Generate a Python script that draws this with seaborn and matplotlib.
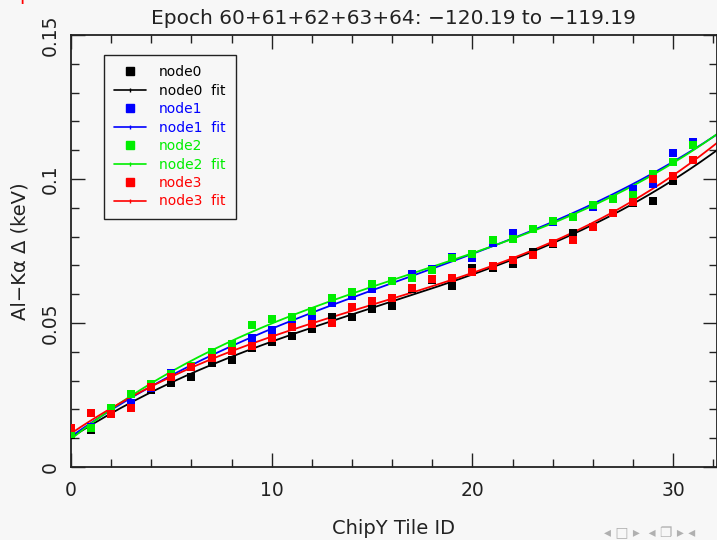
import numpy as np
import pandas as pd
import matplotlib
matplotlib.use("Agg")
import matplotlib.pyplot as plt
import seaborn as sns
from matplotlib.lines import Line2D
from matplotlib.ticker import MultipleLocator

# values (ChipY tile 0..31)
tile_id = list(range(32))
node0 = [0.0111, 0.0128, 0.0201, 0.0222, 0.0267, 0.0292, 0.0313, 0.0361, 0.0372, 0.0413,
         0.0434, 0.0455, 0.0479, 0.0521, 0.0521, 0.0549, 0.0559, 0.0618, 0.0649, 0.0628,
         0.0691, 0.0691, 0.0705, 0.0747, 0.0774, 0.0813, 0.0833, 0.0882, 0.0917, 0.0924,
         0.0993, 0.1066]
node1 = [0.0135, 0.0140, 0.0198, 0.0222, 0.0274, 0.0326, 0.0347, 0.0389, 0.0413, 0.0448,
         0.0476, 0.0514, 0.0524, 0.0569, 0.0594, 0.0618, 0.0646, 0.0670, 0.0688, 0.0729,
         0.0726, 0.0778, 0.0813, 0.0826, 0.0851, 0.0868, 0.0903, 0.0931, 0.0965, 0.0983,
         0.1090, 0.1128]
node2 = [0.0115, 0.0135, 0.0205, 0.0253, 0.0288, 0.0323, 0.0351, 0.0399, 0.0427, 0.0493,
         0.0514, 0.0521, 0.0542, 0.0587, 0.0608, 0.0635, 0.0646, 0.0656, 0.0684, 0.0726,
         0.0740, 0.0788, 0.0792, 0.0826, 0.0854, 0.0868, 0.0910, 0.0931, 0.0944, 0.1017,
         0.1059, 0.1118]
node3 = [0.0135, 0.0188, 0.0184, 0.0205, 0.0278, 0.0313, 0.0347, 0.0378, 0.0403, 0.0420,
         0.0448, 0.0486, 0.0497, 0.0500, 0.0556, 0.0576, 0.0587, 0.0622, 0.0653, 0.0656,
         0.0677, 0.0698, 0.0719, 0.0736, 0.0778, 0.0788, 0.0833, 0.0882, 0.0920, 0.1000,
         0.1010, 0.1066]

node_names = ['node0', 'node1', 'node2', 'node3']
node_colors = ['#000000', '#0000ff', '#00ee00', '#ff0000']

title = 'Epoch 60+61+62+63+64: \u2212120.19 to \u2212119.19'
x_label = 'ChipY Tile ID'
y_label = 'Al\u2212K\u03b1 \u0394 (keV)'

bg = '#f7f7f7'
sns.set_style('ticks')
plt.rcParams['font.family'] = ['DejaVu Sans']

# long-form table for the points, cubic fit for each node
pts = pd.DataFrame({
    'tile': tile_id * 4,
    'delta': node0 + node1 + node2 + node3,
    'node': sum([[n] * len(tile_id) for n in node_names], []),
})
x_fit = np.linspace(0, 32.5, 200)
fit_rows = []
for name, vals in zip(node_names, [node0, node1, node2, node3]):
    coef = np.polyfit(tile_id, vals, 3)
    fit_rows.append(pd.DataFrame({'tile': x_fit, 'delta': np.polyval(coef, x_fit), 'node': name}))
fits = pd.concat(fit_rows, ignore_index=True)
palette = dict(zip(node_names, node_colors))

fig = plt.figure(figsize=(7.17, 5.40), dpi=100, facecolor=bg)
ax = fig.add_axes([71 / 717, 73 / 540, 645.5 / 717, 432 / 540])
ax.set_facecolor(bg)

for name in node_names:
    sns.lineplot(data=fits[fits.node == name], x='tile', y='delta', color=palette[name],
                 lw=1.3, ax=ax, legend=False, zorder=2)
    sns.scatterplot(data=pts[pts.node == name], x='tile', y='delta', color=palette[name],
                    marker='s', s=36, linewidth=0, ax=ax, legend=False, zorder=3)

ax.set_xlim(0, 32.16)
ax.set_ylim(0, 0.15)
ax.xaxis.set_major_locator(MultipleLocator(10))
ax.xaxis.set_minor_locator(MultipleLocator(2))
ax.yaxis.set_major_locator(MultipleLocator(0.05))
ax.yaxis.set_minor_locator(MultipleLocator(0.01))
ax.set_yticks([0, 0.05, 0.1, 0.15])
ax.set_yticklabels(['0', '0.05', '0.1', '0.15'], rotation=90, va='center')
ax.tick_params(which='both', direction='in', top=True, right=True, color='#222222',
               labelsize=13.5, labelcolor='#222222')
ax.tick_params(which='major', length=10, width=1)
ax.tick_params(which='minor', length=6, width=1)
ax.tick_params(axis='x', pad=10)
ax.tick_params(axis='y', pad=8)
for sp in ax.spines.values():
    sp.set_color('#222222')
    sp.set_linewidth(1.3)

ax.set_xlabel(x_label, fontsize=14, color='#222222', labelpad=14)
ax.set_ylabel(y_label, fontsize=14, color='#222222', labelpad=8)
ax.set_title(title, fontsize=14.5, color='#222222', pad=8)

handles, labels, label_colors = [], [], []
for name, col in zip(node_names, node_colors):
    handles.append(Line2D([], [], ls='none', marker='s', ms=5.5, color=col))
    handles.append(Line2D([], [], color=col, lw=1.2, marker='|', ms=3, markevery=[1]))
    labels += [name, name + '  fit']
    label_colors += [col, col]
leg = ax.legend(handles, labels, loc='upper left', bbox_to_anchor=(0.051, 0.954),
                borderaxespad=0, fontsize=10, frameon=True, fancybox=False,
                edgecolor='#222222', facecolor=bg, framealpha=1, labelcolor=label_colors,
                handlelength=2.3, handletextpad=0.9, labelspacing=0.32, borderpad=0.75)
leg.get_frame().set_linewidth(1.0)

# clipped red line of slide text above, and beamer navigation glyphs
fig.text(0.027, 1.0, 'p', color='red', fontsize=14, va='baseline', ha='left')
fig.text(0.842, 0.006, '\u25c2 \u25a1 \u25b8  \u25c2 \u2750 \u25b8 \u25c2', color='#b0b0b0', fontsize=10)

fig.savefig('out.png', dpi=100, facecolor=bg)
